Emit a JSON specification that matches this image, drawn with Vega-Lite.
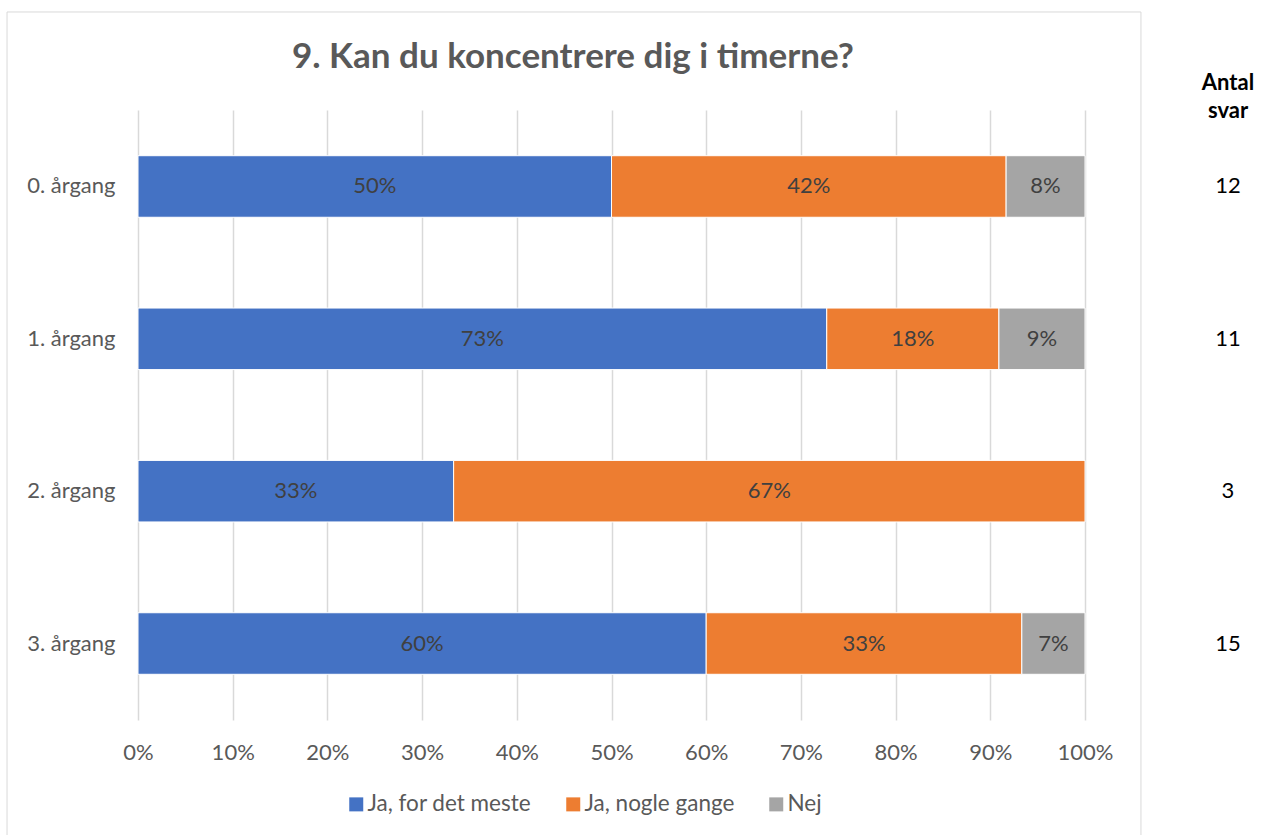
{
  "$schema": "https://vega.github.io/schema/vega-lite/v6.json",
  "width": 947,
  "height": 610,
  "autosize": {"type": "none"},
  "padding": {"left": 138, "top": 110, "right": 178, "bottom": 115},
  "background": "white",
  "config": {
    "font": "Lato",
    "view": {"stroke": null},
    "axisX": {"title": null, "format": ".0%", "grid": true, "gridColor": "#d9d9d9", "gridWidth": 1.5, "domain": false, "ticks": false, "labelPadding": 22, "labelFontSize": 22, "labelColor": "#595959", "labelFont": "Lato", "labelFlush": false, "labelOverlap": false}
  },
  "datasets": {
    "seg": [
      {"arg": "0. årgang", "svar": "Ja, for det meste", "v": 0.5},
      {"arg": "0. årgang", "svar": "Ja, nogle gange", "v": 0.4167},
      {"arg": "0. årgang", "svar": "Nej", "v": 0.0833},
      {"arg": "1. årgang", "svar": "Ja, for det meste", "v": 0.7273},
      {"arg": "1. årgang", "svar": "Ja, nogle gange", "v": 0.1818},
      {"arg": "1. årgang", "svar": "Nej", "v": 0.0909},
      {"arg": "2. årgang", "svar": "Ja, for det meste", "v": 0.3333},
      {"arg": "2. årgang", "svar": "Ja, nogle gange", "v": 0.6667},
      {"arg": "3. årgang", "svar": "Ja, for det meste", "v": 0.6},
      {"arg": "3. årgang", "svar": "Ja, nogle gange", "v": 0.3333},
      {"arg": "3. årgang", "svar": "Nej", "v": 0.0667}
    ],
    "antal": [
      {"arg": "0. årgang", "n": 12},
      {"arg": "1. årgang", "n": 11},
      {"arg": "2. årgang", "n": 3},
      {"arg": "3. årgang", "n": 15}
    ]
  },
  "layer": [
    {
      "data": {"values": [{}]},
      "layer": [
        {
          "mark": {"type": "rect", "fillOpacity": 0, "stroke": "#d9d9d9", "strokeWidth": 1},
          "encoding": {
            "x": {"datum": -0.1383, "type": "quantitative", "scale": {"domain": [0, 1], "nice": false}, "axis": {"values": [0, 0.1, 0.2, 0.3, 0.4, 0.5, 0.6, 0.7, 0.8, 0.9, 1], "title": null}},
            "x2": {"datum": 1.0591},
            "y": {"datum": 1.1607, "type": "quantitative", "scale": {"domain": [0, 1], "nice": false}, "axis": null},
            "y2": {"datum": -0.3}
          }
        },
        {
          "mark": {"type": "text", "text": "9. Kan du koncentrere dig i timerne?", "fontSize": 35, "fontWeight": "bold", "color": "#595959", "baseline": "middle", "align": "center"},
          "encoding": {
            "x": {"datum": 0.4593, "type": "quantitative", "scale": {"domain": [0, 1], "nice": false}, "axis": {"values": [0, 0.1, 0.2, 0.3, 0.4, 0.5, 0.6, 0.7, 0.8, 0.9, 1], "title": null}},
            "y": {"datum": 1.0869, "type": "quantitative", "scale": {"domain": [0, 1], "nice": false}, "axis": null}
          }
        },
        {
          "mark": {"type": "text", "text": ["Antal", "svar"], "fontSize": 22, "fontWeight": "bold", "color": "#000000", "lineHeight": 28, "baseline": "middle", "align": "center"},
          "encoding": {
            "x": {"datum": 1.151, "type": "quantitative", "scale": {"domain": [0, 1], "nice": false}, "axis": {"values": [0, 0.1, 0.2, 0.3, 0.4, 0.5, 0.6, 0.7, 0.8, 0.9, 1], "title": null}},
            "y": {"datum": 1.0443, "type": "quantitative", "scale": {"domain": [0, 1], "nice": false}, "axis": null}
          }
        }
      ]
    },
    {
      "layer": [
        {
          "data": {"name": "seg"},
          "transform": [
            {"stack": "v", "groupby": ["arg"], "sort": [{"field": "svar", "order": "ascending"}], "as": ["x0", "x1"]}
          ],
          "mark": {"type": "bar", "stroke": "white", "strokeWidth": 1},
          "encoding": {
            "y": {
              "field": "arg", "type": "nominal",
              "scale": {"paddingInner": 0.596, "paddingOuter": 0.3},
              "axis": {"title": null, "domain": false, "ticks": false, "labelPadding": 23, "labelFontSize": 22, "labelColor": "#595959", "labelFont": "Lato"}
            },
            "x": {
              "field": "x0", "type": "quantitative",
              "scale": {"domain": [0, 1], "nice": false},
              "axis": {"values": [0, 0.1, 0.2, 0.3, 0.4, 0.5, 0.6, 0.7, 0.8, 0.9, 1], "title": null}
            },
            "x2": {"field": "x1"},
            "color": {
              "field": "svar", "type": "nominal",
              "scale": {"domain": ["Ja, for det meste", "Ja, nogle gange", "Nej"], "range": ["#4472C4", "#ED7D31", "#A5A5A5"]},
              "legend": {"title": null, "orient": "none", "direction": "horizontal", "legendX": 207, "legendY": 683, "symbolType": "square", "symbolSize": 196, "symbolStrokeWidth": 0, "labelFontSize": 22.5, "labelColor": "#595959", "labelFont": "Lato", "labelLimit": 400, "columnPadding": 30, "labelOffset": 0, "padding": 0}
            }
          }
        },
        {
          "data": {"name": "seg"},
          "transform": [
            {"stack": "v", "groupby": ["arg"], "sort": [{"field": "svar", "order": "ascending"}], "as": ["x0", "x1"]},
            {"calculate": "(datum.x0 + datum.x1) / 2", "as": "mid"}
          ],
          "mark": {"type": "text", "fontSize": 22, "color": "#404040", "baseline": "middle", "align": "center"},
          "encoding": {
            "y": {"field": "arg", "type": "nominal", "scale": {"paddingInner": 0.596, "paddingOuter": 0.3}},
            "x": {"field": "mid", "type": "quantitative", "scale": {"domain": [0, 1], "nice": false}, "axis": {"values": [0, 0.1, 0.2, 0.3, 0.4, 0.5, 0.6, 0.7, 0.8, 0.9, 1], "title": null}},
            "text": {"field": "v", "type": "quantitative", "format": ".0%"}
          }
        },
        {
          "data": {"name": "antal"},
          "mark": {"type": "text", "fontSize": 22, "color": "#000000", "baseline": "middle", "align": "center"},
          "encoding": {
            "y": {"field": "arg", "type": "nominal", "scale": {"paddingInner": 0.596, "paddingOuter": 0.3}},
            "x": {"datum": 1.151, "type": "quantitative", "scale": {"domain": [0, 1], "nice": false}, "axis": {"values": [0, 0.1, 0.2, 0.3, 0.4, 0.5, 0.6, 0.7, 0.8, 0.9, 1], "title": null}},
            "text": {"field": "n", "type": "quantitative"}
          }
        }
      ]
    }
  ],
  "resolve": {"scale": {"y": "independent"}}
}
